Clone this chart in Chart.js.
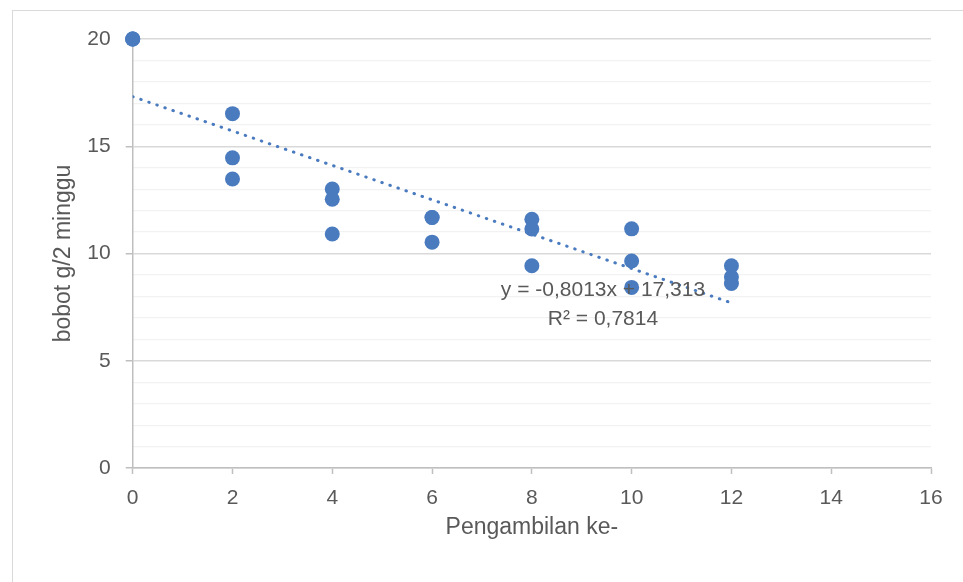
<!DOCTYPE html>
<html>
<head>
<meta charset="utf-8">
<script src="https://cdn.jsdelivr.net/npm/chart.js@4"></script>
<style>
  html, body { margin: 0; padding: 0; background: #fff; overflow: hidden; }
  #wrap { position: relative; width: 963px; height: 582px; }
  #frame { position: absolute; left: 12px; top: 10px; width: 1000px; height: 1000px; border: 1px solid #d9d9d9; }
  canvas { position: absolute; left: 0; top: 0; }
</style>
</head>
<body>
<div id="wrap">
  <div id="frame"></div>
  <canvas id="chart" width="963" height="582"></canvas>
</div>
<script>
// sampling rounds (x) and measured weights (y), 3 per round
const sampleX = [0, 0, 0, 2, 2, 2, 4, 4, 4, 6, 6, 6, 8, 8, 8, 10, 10, 10, 12, 12, 12];
const weights = [20, 20, 20, 16.52, 14.46, 13.47, 13.01, 12.53, 10.91, 11.68, 11.68, 10.53,
                 11.60, 11.14, 9.43, 11.15, 9.65, 8.42, 9.43, 8.90, 8.60];

// linear trendline as shown on the chart
const slope = -0.8013;
const intercept = 17.313;
const trendRange = [0, 12];

const eqText = "y = -0,8013x + 17,313";
const r2Text = "R² = 0,7814";

const textColor = "#595959";
const blue = "#4a7bbf";
const font = "'Liberation Sans', Arial, sans-serif";

const points = sampleX.map((x, i) => ({ x: x, y: weights[i] }));
const trend = trendRange.map(x => ({ x: x, y: slope * x + intercept }));

// trendline equation label
const eqLabel = {
  id: "eqLabel",
  afterDatasetsDraw(c) {
    const ctx = c.ctx;
    ctx.save();
    ctx.fillStyle = textColor;
    ctx.font = "21px " + font;
    ctx.textAlign = "center";
    ctx.textBaseline = "middle";
    ctx.fillText(eqText, 603, 290);
    ctx.fillText(r2Text, 603, 319);
    ctx.restore();
  }
};

new Chart(document.getElementById("chart"), {
  type: "scatter",
  data: {
    datasets: [
      {
        label: "bobot",
        data: points,
        backgroundColor: blue,
        borderColor: blue,
        borderWidth: 0,
        pointRadius: 7.5,
        pointHoverRadius: 7.5,
        clip: false,
        order: 2
      },
      {
        type: "line",
        label: "trend",
        data: trend,
        borderColor: blue,
        borderWidth: 3,
        borderDash: [0.5, 8],
        borderCapStyle: "round",
        pointRadius: 0,
        fill: false,
        order: 1
      }
    ]
  },
  options: {
    responsive: false,
    animation: false,
    layout: { padding: { top: 39, right: 32, left: 0, bottom: 0 } },
    plugins: {
      legend: { display: false },
      tooltip: { enabled: false }
    },
    scales: {
      x: {
        type: "linear",
        min: 0,
        max: 16,
        afterFit: s => { s.height = 114; },
        ticks: { stepSize: 2, color: textColor, padding: 12, font: { family: font, size: 21 } },
        grid: { drawOnChartArea: false, tickLength: 6, tickColor: "#bfbfbf", tickWidth: 1.5 },
        border: { color: "#bfbfbf", width: 1.5 },
        title: {
          display: true,
          text: "Pengambilan ke-",
          color: textColor,
          font: { family: font, size: 23 },
          padding: { top: 41, bottom: 41 }
        }
      },
      y: {
        min: 0,
        max: 20,
        afterFit: s => { s.width = 132.7; },
        ticks: {
          stepSize: 1,
          autoSkip: false,
          color: textColor,
          padding: 15,
          font: { family: font, size: 21 },
          callback: v => (v % 5 === 0 ? v : "")
        },
        grid: {
          tickLength: 7,
          color: ctx => (ctx.tick && ctx.tick.value % 5 === 0 ? "#d9d9d9" : "#f2f2f2"),
          lineWidth: ctx => (ctx.tick && ctx.tick.value % 5 === 0 ? 1.5 : 1.2),
          tickColor: ctx => (ctx.tick && ctx.tick.value % 5 === 0 ? "#bfbfbf" : "rgba(0,0,0,0)")
        },
        border: { color: "#bfbfbf", width: 1.5 },
        title: {
          display: true,
          text: "bobot g/2 minggu",
          color: textColor,
          font: { family: font, size: 23 },
          padding: { top: 50, bottom: 10 }
        }
      }
    }
  },
  plugins: [eqLabel]
});
</script>
</body>
</html>
